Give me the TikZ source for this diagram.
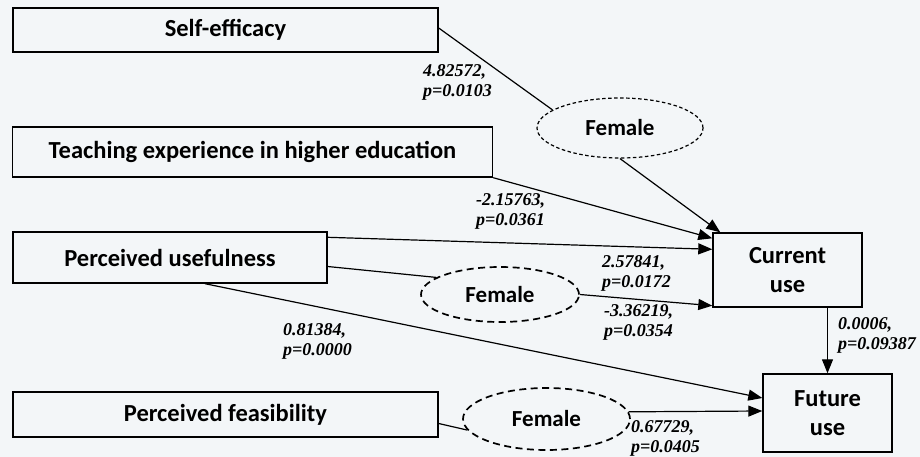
\documentclass[tikz,border=0pt]{standalone}
\usepackage{fontspec}
\setmainfont{Carlito}
\newfontfamily\coeffont{Liberation Serif}
\usetikzlibrary{shapes.geometric,arrows.meta}
\definecolor{paper}{RGB}{243,246,248}
\tikzset{
  var/.style={draw, line width=1.4pt, fill=paper, inner sep=0pt,
    font=\fontsize{24.5}{29}\selectfont\bfseries, align=center},
  mod/.style={ellipse, draw, line width=1.7pt, dash pattern=on 7pt off 4.5pt,
    inner sep=0pt, font=\fontsize{23}{27}\selectfont\bfseries},
  modthin/.style={mod, line width=1.2pt, dash pattern=on 3.5pt off 2.5pt},
  path/.style={line width=1.2pt},
  effect/.style={path, -{Triangle[length=14pt,width=11pt]}},
  coef/.style={font=\coeffont\fontsize{18}{20}\selectfont\bfseries\itshape,
    align=left, inner sep=0pt, anchor=west}
}
\begin{document}
\begin{tikzpicture}[x=1pt, y=-1pt]
  \fill[paper] (0,0) rectangle (920,457);
  \useasboundingbox (0,0) rectangle (920,457);

  % predictors
  \node[var, minimum width=425pt, minimum height=44pt] (se) at (225.5,30) {Self-efficacy};
  \node[var, minimum width=480pt, minimum height=50pt] (te) at (252.5,152) {Teaching experience in higher education};
  \node[var, minimum width=314pt, minimum height=51pt] (pu) at (170,257.5) {Perceived usefulness};
  \node[var, minimum width=425pt, minimum height=45pt] (pf) at (225.5,414.5) {Perceived feasibility};

  % outcomes
  \node[var, minimum width=149pt, minimum height=74pt] (cu) at (787.5,270) {Current\\use};
  \node[var, minimum width=129pt, minimum height=78pt] (fu) at (827.5,413) {Future\\use};

  % moderators
  \node[modthin, minimum width=166pt, minimum height=60pt] (f1) at (620,128) {Female};
  \node[mod, minimum width=158pt, minimum height=55pt] (f2) at (500,294.5) {Female};
  \node[mod, minimum width=167pt, minimum height=62pt] (f3) at (546.5,419) {Female};

  % paths
  \draw[path] ([yshift=2pt]se.east) -- (f1.165);
  \draw[effect] (f1.south) -- ([xshift=8pt]cu.north west);
  \draw[effect] (te.south east) -- ([yshift=-6pt]cu.north west);
  \draw[effect] ([yshift=-6pt]pu.north east) -- ([yshift=-17pt]cu.north west);
  \draw[path] ([yshift=-9pt]pu.east) -- (f2.165);
  \draw[effect] (f2.east) -- ([yshift=2pt]cu.south west);
  \draw[effect] ([xshift=35pt]pu.south) -- ([yshift=15pt]fu.west);
  \draw[path] ([yshift=-9pt]pf.east) -- (f3.188);
  \draw[effect] (f3.5) -- ([yshift=2pt]fu.west);
  \draw[effect] (fu.north |- cu.south) -- (fu.north);

  % coefficients
  \node[coef] (c1) at (423,82) {4.82572,\\p=0.0103};
  \node[coef] (c2) at (476,211) {-2.15763,\\p=0.0361};
  \node[coef] (c3) at (602,273) {2.57841,\\p=0.0172};
  \node[coef] (c4) at (604,322) {-3.36219,\\p=0.0354};
  \node[coef] (c5) at (283,341) {0.81384,\\p=0.0000};
  \node[coef] (c6) at (838,335) {0.0006,\\p=0.09387};
  \node[coef] (c7) at (631,438) {0.67729,\\p=0.0405};
\end{tikzpicture}
\end{document}
